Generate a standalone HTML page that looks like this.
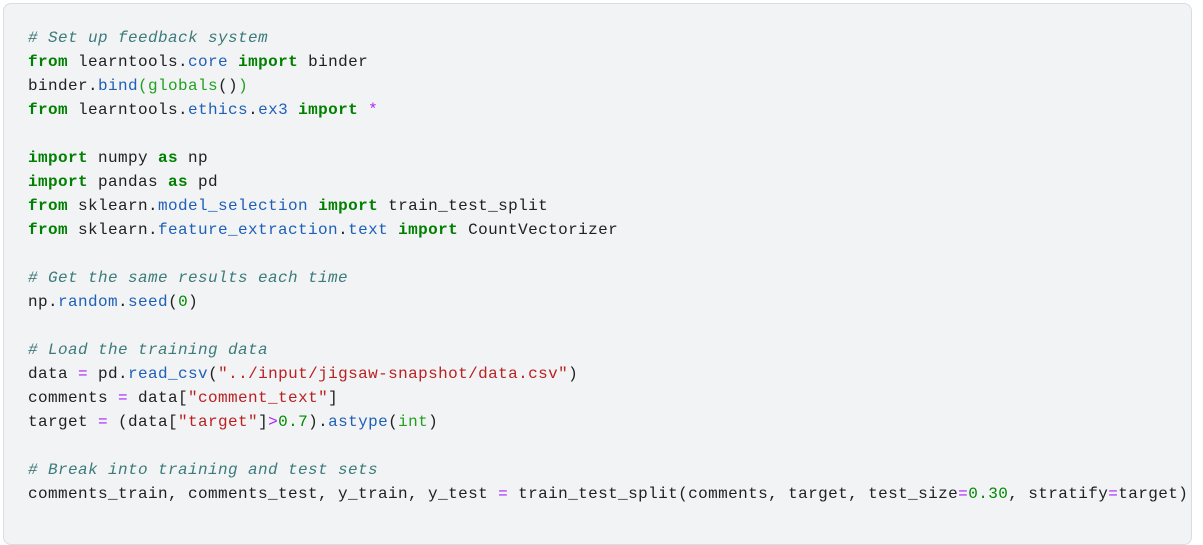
<!DOCTYPE html>
<html><head><meta charset="utf-8"><style>
html,body{margin:0;padding:0;background:#fff;width:1203px;height:528px;overflow:hidden}
.box{position:absolute;left:3px;top:3px;width:1187px;height:540px;background:#f1f3f4;border:1px solid #dadce0;border-radius:8px;overflow:hidden}
pre{margin:0;position:absolute;left:24px;top:22px;font-family:"Liberation Mono",monospace;font-size:16px;letter-spacing:0.4px;line-height:24px;color:#202124;white-space:pre}
.k{color:#008000;font-weight:bold}
.c{color:#3d7b7b;font-style:italic}
.a{color:#1f5fb8}
.s{color:#ba2121}
.n{color:#008800}
.o{color:#aa22ff}
.b{color:#22a022}
</style></head><body>
<div class="box"><pre><span class="c"># Set up feedback system</span>
<span class="k">from</span> learntools.<span class="a">core</span> <span class="k">import</span> binder
binder.<span class="a">bind</span><span class="b">(globals</span>()<span class="b">)</span>
<span class="k">from</span> learntools.<span class="a">ethics</span>.<span class="a">ex3</span> <span class="k">import</span> <span class="o">*</span>

<span class="k">import</span> numpy <span class="k">as</span> np
<span class="k">import</span> pandas <span class="k">as</span> pd
<span class="k">from</span> sklearn.<span class="a">model_selection</span> <span class="k">import</span> train_test_split
<span class="k">from</span> sklearn.<span class="a">feature_extraction</span>.<span class="a">text</span> <span class="k">import</span> CountVectorizer

<span class="c"># Get the same results each time</span>
np.<span class="a">random</span>.<span class="a">seed</span>(<span class="n">0</span>)

<span class="c"># Load the training data</span>
data <span class="o">=</span> pd.<span class="a">read_csv</span>(<span class="s">"../input/jigsaw-snapshot/data.csv"</span>)
comments <span class="o">=</span> data[<span class="s">"comment_text"</span>]
target <span class="o">=</span> (data[<span class="s">"target"</span>]<span class="o">&gt;</span><span class="n">0.7</span>).<span class="a">astype</span>(<span class="b">int</span>)

<span class="c"># Break into training and test sets</span>
comments_train, comments_test, y_train, y_test <span class="o">=</span> train_test_split(comments, target, test_size<span class="o">=</span><span class="n">0.30</span>, stratify<span class="o">=</span>target)</pre></div>
</body></html>
